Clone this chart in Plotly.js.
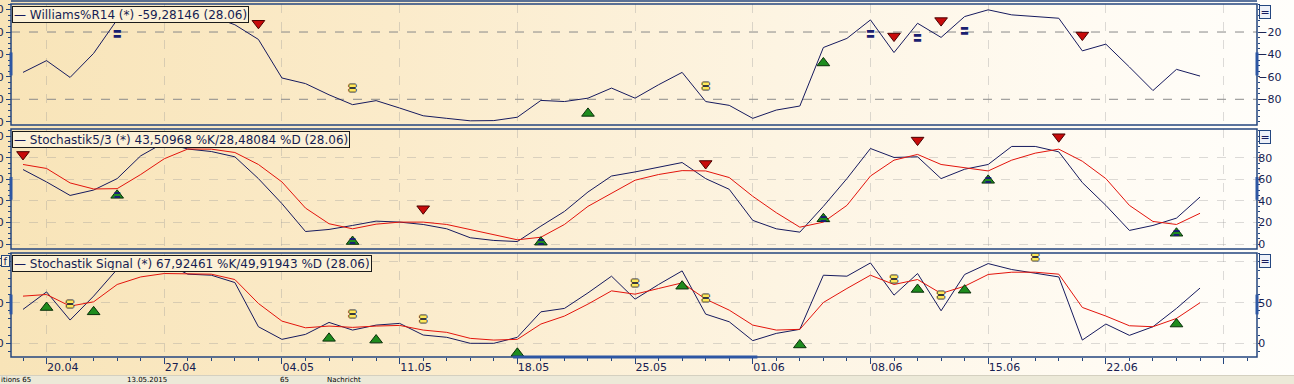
<!DOCTYPE html>
<html><head><meta charset="utf-8">
<script src="https://cdn.plot.ly/plotly-3.0.1.min.js"></script>
<style>
html,body{margin:0;padding:0;}
body{width:1294px;height:384px;overflow:hidden;position:relative;
background:linear-gradient(to right,#f8e4b8 0%,#fbebca 30%,#fdf4e2 60%,#fffbf3 85%,#fffefb 100%);}
#chart{position:absolute;left:0;top:0;width:1294px;height:384px;}
#status{position:absolute;left:0;top:375px;width:1294px;height:9px;background:#ece9d8;border-top:1px solid #d4d0c0;overflow:hidden;font-family:"DejaVu Sans";font-size:7px;line-height:8px;color:#000;}
#status span{position:absolute;top:0px;white-space:nowrap;}
</style></head>
<body>
<div id="chart"></div>
<div id="status"><span style="left:1px">itions 65</span><span style="left:127px">13.05.2015</span><span style="left:280px">65</span><span style="left:327px">Nachricht</span></div>
<script>
// trading days (x categories)
const days = ['17.04','20.04','21.04','22.04','23.04','24.04','27.04','28.04','29.04','30.04','01.05',
'04.05','05.05','06.05','07.05','08.05','11.05','12.05','13.05','14.05','15.05',
'18.05','19.05','20.05','21.05','22.05','25.05','26.05','27.05','28.05','29.05',
'01.06','02.06','03.06','04.06','05.06','08.06','09.06','10.06','11.06','12.06',
'15.06','16.06','17.06','18.06','19.06','22.06','23.06','24.06','25.06','26.06'];
const tickIdx = [1,6,11,16,21,26,31,36,41,46,51];
const tickLabels = ['20.04','27.04','04.05','11.05','18.05','25.05','01.06','08.06','15.06','22.06',''];

// Williams %R 14
const williams = [-56,-45.5,-60.5,-39,-9,-4,-1,-2,-6,-13.5,-26.6,-61,-66,-76,-84.8,-81.2,-87.8,-94.7,-97,-99.2,
-99,-96,-81,-82,-79,-70,-79,-67,-56,-82,-85.4,-97,-89.6,-86,-33.8,-25.7,-9.2,-38.3,-12.2,-24.8,
-6.2,-0.2,-4.7,-6.2,-7.7,-36.8,-30.8,-51.2,-72.2,-53.3,-59.28146];
const williamsLevels = [-20,-80];
const wSellIdx = [10,37,39,45], wSellVal = [-12.2,-23.6,-9.8,-22.7];
const wBuyIdx = [24,34], wBuyVal = [-92.6,-47.6];
const wHoldIdx = [4,36,38,40], wHoldVal = [-22,-22.7,-25.7,-19.7];
const wNeutralIdx = [14,29], wNeutralVal = [-71,-68.6];

// Stochastik 5/3
const stochK = [69,57.5,45,50,60.6,81.7,94,88,85.7,80.8,60.6,37.4,11.6,13.5,17.2,21.2,20.3,18.1,14.1,5.8,
3.3,2.3,16.6,30.2,48.2,63,66.8,71.2,75.5,60.6,50.7,21.9,14.1,11,34.9,60.6,88.5,80.2,80.8,60.6,
69.3,73.7,90.4,90.4,85.4,56.9,35.8,12.6,17.2,24,43.50968];
const stochD = [73.7,70,56.6,51,51.3,64.4,79,88,87.9,84.8,73.7,57.5,33.3,18.8,14.1,18.4,20.3,20.3,18.1,13.2,
8.6,3.9,6.3,18.1,34.9,47.3,59.1,64.4,68,67.7,61.6,44.2,29,15.6,20.3,35.8,63,77.7,83,73.7,
70.5,67.7,77.7,84.2,87.9,76.7,60.6,35.8,20.9,18.1,28.48084];
const sSellIdx = [0,17,29,38,44], sSellVal = [83,32.7,74.6,96.3,99.4];
const sBuyIdx = [4,14,22,34,41,49], sBuyVal = [45.1,2.3,1.7,23.4,59,10];

// Stochastik Signal
const sigK = [41.7,63.2,28.6,58,91,97,99,85,83.7,74.7,20.4,4.9,11,25.7,16.3,22.4,24.5,10.2,7.4,0,
0,7.4,38.7,42.9,62,82.5,54.3,72.3,89,35.9,26.5,3.3,12.2,17.2,83.7,82.5,98.8,59.2,85.8,40,
84.6,98,90.7,86.5,81.6,4,23.7,9.8,20.4,42.9,67.92461];
const sigD = [58,60,45.7,51,72.3,81.6,85.8,85.8,85,78.4,49,27.3,19.1,21.2,19.6,21.2,22,16.3,13.5,6.1,
4,4.9,23.7,33.5,48.2,64.5,60.4,67.4,74.3,54.3,40.8,22.4,16.3,17.2,50.2,67.4,83.7,72.3,78.4,61.3,
70.2,84.6,87.4,87.4,85,44.1,33.5,21.6,20.4,30.6,49.91943];
const gBuyIdx = [1,3,13,15,21,28,33,38,40,49], gBuyVal = [44,38.7,6.1,4,-12.3,70.2,-2,66.2,65.3,23.7];
const gNeutralIdx = [2,14,17,26,29,37,39,43], gNeutralVal = [46.9,34.7,28.6,72.7,54.3,77.6,58,105.4];

const lastDate = '28.06';

const X = days.map((d,i)=>i);
const FONT = 'DejaVu Sans, Verdana, sans-serif';
const NAVY = '#161a5e', RED = '#e3140c', BORDER = '#24467f', TXT = '#161d52';
const GRID = 'rgba(150,150,150,0.33)';
const fmt = v => v.toFixed(5).replace('.', ',');

function ln(y, color, xa, ya){ return {x:X, y, xaxis:xa, yaxis:ya, type:'scatter', mode:'lines', line:{color, width:1}, hoverinfo:'skip'}; }
function tri(idx, vals, up, xa, ya){
  return {x:idx, y:vals, xaxis:xa, yaxis:ya, type:'scatter', mode:'markers', hoverinfo:'skip',
    marker:{symbol: up?'triangle-up':'triangle-down', size:11,
      color: up?'#1e8c1e':'#c80a0a', line:{color: up?'#0b300b':'#4a0000', width:1}}};
}
function bars(idx, vals, xa, ya, color, shadow, size){
  return {x:idx, y:vals, xaxis:xa, yaxis:ya, type:'scatter', mode:'text', hoverinfo:'skip',
    text: idx.map(()=>'〓'), textposition:'middle center',
    textfont:{family:'Noto Sans CJK SC', size:size, color:color, shadow:shadow}};
}
function ghost(xa, ya, yv){ return {x:[X[0]], y:[yv], xaxis:xa, yaxis:ya, type:'scatter', mode:'markers',
  marker:{opacity:0, size:1}, hoverinfo:'skip'}; }
const OUT = '-1px 0 #3a3a3a, 1px 0 #3a3a3a, 0 -1px #3a3a3a, 0 1px #3a3a3a';

const traces = [
  ln(williams, NAVY, 'x2', 'y'),
  tri(wSellIdx, wSellVal, false, 'x2', 'y'),
  tri(wBuyIdx, wBuyVal, true, 'x2', 'y'),
  bars(wHoldIdx, wHoldVal, 'x2', 'y', '#1a2070', 'none', 9),
  bars(wNeutralIdx, wNeutralVal, 'x2', 'y', '#ffe85a', OUT, 8),

  ln(stochK, NAVY, 'x3', 'y2'),
  ln(stochD, RED, 'x3', 'y2'),
  tri(sSellIdx, sSellVal, false, 'x3', 'y2'),
  tri(sBuyIdx, sBuyVal, true, 'x3', 'y2'),
  bars(sBuyIdx, sBuyVal, 'x3', 'y2', '#1a2070', 'none', 7),

  ln(sigK, NAVY, 'x', 'y3'),
  ln(sigD, RED, 'x', 'y3'),
  tri(gBuyIdx, gBuyVal, true, 'x', 'y3'),
  bars(gNeutralIdx, gNeutralVal, 'x', 'y3', '#ffe85a', OUT, 8),

  ghost('x2', 'y4', williams[0]),
  ghost('x3', 'y5', stochK[0]),
  ghost('x', 'y6', sigK[0])
];

const xr = [-0.51, 52.42];
const tickF = {family:FONT, size:11, color:TXT};
const xBase = {range:xr, tickmode:'array', tickvals:tickIdx, ticktext:tickLabels, showgrid:true,
  gridcolor:GRID, griddash:'dash', zeroline:false, showline:false, fixedrange:true};
function yRight(domain, range, tickvals, showgrid, minorD){
  return {domain, range, side:'right', anchor:'x', tickmode:'array', tickvals,
    ticks:'outside', ticklen:2, tickcolor:BORDER, tickfont:tickF, ticklabelstandoff:-4,
    showgrid, gridcolor:GRID, griddash:'dash', zeroline:false, showline:false,
    minor:{tickmode:'linear', dtick:minorD, ticks:'outside', ticklen:2, tickcolor:BORDER, showgrid:false}};
}
function yLeft(over, range, tickvals, minorD){
  return {overlaying:over, range, side:'left', anchor:'free', position:0, tickmode:'array', tickvals,
    ticks:'outside', ticklen:5, tickcolor:BORDER, tickfont:tickF, showgrid:false, zeroline:false, showline:false,
    minor:{tickmode:'linear', dtick:minorD, ticks:'outside', ticklen:3, tickcolor:BORDER, showgrid:false}};
}
const d1 = [0.657, 1], d2 = [0.306, 0.646], d3 = [0, 0.2946];
const r1 = [-103, 5], r2 = [-4.6, 106.6], r3 = [-16.8, 111];

const y3r = yRight(d3, r3, [0,50,100], true, 10);
y3r.ticktext = ['0','50',''];

const layout = {
  width:1294, height:384, margin:{l:11, r:37, t:4, b:27},
  paper_bgcolor:'rgba(0,0,0,0)', plot_bgcolor:'rgba(0,0,0,0)', showlegend:false,
  font:{family:FONT, color:TXT},
  xaxis: Object.assign({}, xBase, {anchor:'y3', ticks:'outside', ticklen:6, tickcolor:BORDER,
    tickfont:tickF, ticklabelposition:'outside right',
    minor:{tickmode:'linear', tick0:0, dtick:1, ticks:'outside', ticklen:3, tickcolor:BORDER, showgrid:false}}),
  xaxis2: Object.assign({}, xBase, {anchor:'y', matches:'x', showticklabels:false, ticks:''}),
  xaxis3: Object.assign({}, xBase, {anchor:'y2', matches:'x', showticklabels:false, ticks:''}),
  yaxis: yRight(d1, r1, [-20,-40,-60,-80], false, 5),
  yaxis2: yRight(d2, r2, [0,20,40,60,80], true, 5),
  yaxis3: y3r,
  yaxis4: yLeft('y', r1, [0,-20,-40,-60,-80,-100], 5),
  yaxis5: yLeft('y2', r2, [0,20,40,60,80,100], 5),
  yaxis6: yLeft('y3', r3, [0,50,100], 10),
  shapes: [], annotations: []
};

// indicator levels
williamsLevels.forEach(v => layout.shapes.push({type:'line', xref:'paper', x0:0, x1:1, yref:'y', y0:v, y1:v,
  line:{color:'#8a8a8a', width:1, dash:'dash'}, layer:'below'}));
// panel frames + side indicators
['y','y2','y3'].forEach(a => {
  layout.shapes.push({type:'rect', xref:'paper', x0:0, x1:1, yref:a+' domain', y0:0, y1:1,
    line:{color:BORDER, width:1.5}, layer:'above'});
  [0,1].forEach(px => layout.shapes.push({type:'line', xref:'paper', x0:px, x1:px, yref:a+' domain', y0:0.41, y1:0.6,
    line:{color:'#2d56a3', width:3}}));
});
layout.shapes.push({type:'line', xref:'paper', x0:0.403, x1:0.599, yref:'y3 domain', y0:0, y1:0, line:{color:'#2d56a3', width:3}});
layout.shapes.push({type:'line', xref:'paper', x0:0, x1:1, yref:'paper', y0:1.0085, y1:1.0085, line:{color:BORDER, width:1.5}});

// legend boxes
const legends = [
  ['y', 'Williams%R14 (*) ' + fmt(williams[williams.length-1]) + ' (' + lastDate + ')'],
  ['y2', 'Stochastik5/3 (*) ' + fmt(stochK[stochK.length-1]) + ' %K/' + fmt(stochD[stochD.length-1]) + ' %D (' + lastDate + ')'],
  ['y3', 'Stochastik Signal (*) ' + fmt(sigK[sigK.length-1]) + ' %K/' + fmt(sigD[sigD.length-1]) + ' %D (' + lastDate + ')']
];
legends.forEach(([a, t]) => {
  layout.annotations.push({xref:'paper', yref:a+' domain', x:0, y:1, xanchor:'left', yanchor:'top',
    xshift:1, yshift:-2, showarrow:false, text:'<span style="color:#161a5e">—</span> ' + t,
    font:{family:FONT, size:12, color:TXT}, bgcolor:'#fcf1d7', bordercolor:'#1b1b1b', borderwidth:1, borderpad:1, height:13});
  layout.annotations.push({xref:'paper', yref:a+' domain', x:1, y:1, xanchor:'left', yanchor:'top',
    xshift:2, yshift:-1, showarrow:false, text:'=', font:{family:FONT, size:11, color:'#161a5e'},
    bgcolor:'#eef1f8', bordercolor:BORDER, borderwidth:1, borderpad:0, width:10, height:12});
});
layout.annotations.push({xref:'paper', yref:'y3 domain', x:0, y:1, xanchor:'right', yanchor:'top',
  xshift:-1, yshift:-2, showarrow:false, text:'f', font:{family:FONT, size:10, color:'#161a5e'},
  bgcolor:'#fcf1d7', bordercolor:BORDER, borderwidth:1, borderpad:0, width:7, height:10});

Plotly.newPlot('chart', traces, layout, {staticPlot:true, displayModeBar:false});
</script>
</body></html>
